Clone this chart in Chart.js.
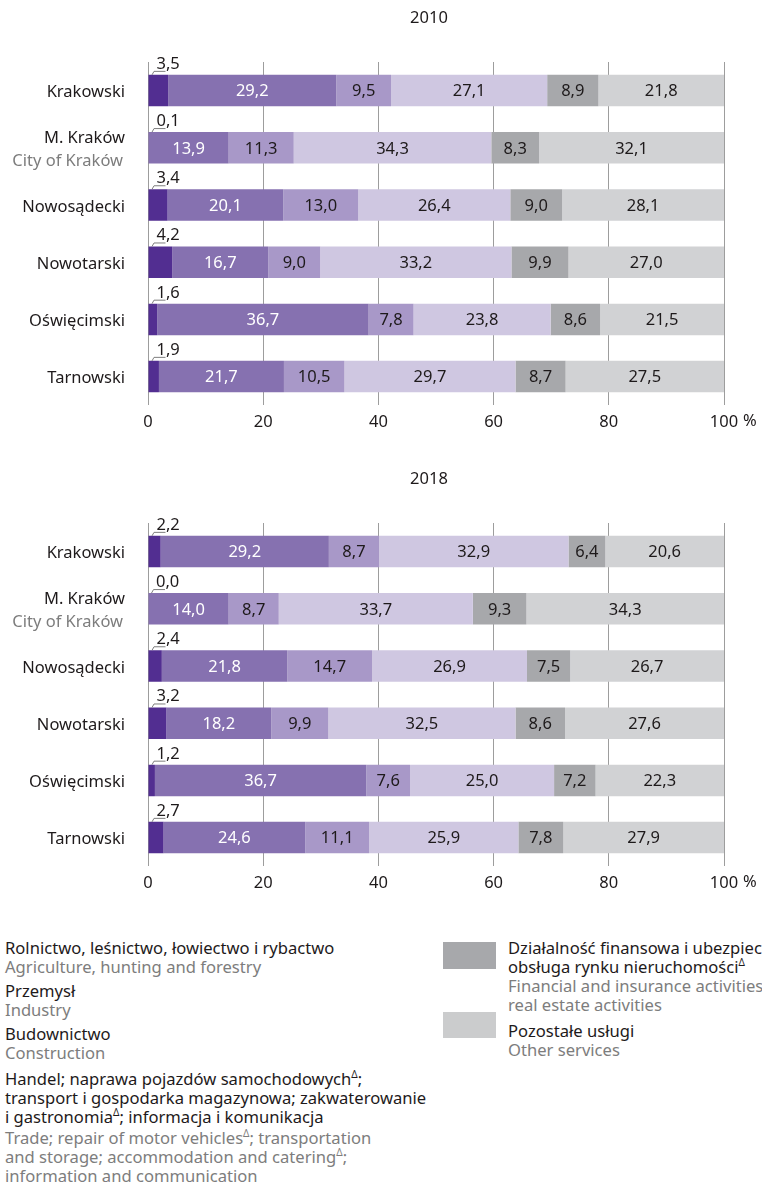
<!DOCTYPE html>
<html>
<head>
<meta charset="utf-8">
<script src="https://cdn.jsdelivr.net/npm/chart.js@4/dist/chart.umd.min.js"></script>
<style>
  body { margin: 0; background: #fff; width: 762px; height: 1183px; overflow: hidden; position: relative; font-family: "Noto Sans", sans-serif; color: #1e1a1b; }
  canvas { position: absolute; left: 0; }
  .legend { position: absolute; font-size: 16.6px; line-height: 19px; white-space: nowrap; }
  .legend .en { color: #7d7d7d; }
  .legend .grp { margin-top: 5px; }
  .legend sup { font-size: 10px; line-height: 0; vertical-align: 7px; }
  .sw { position: absolute; left: 443px; width: 53px; }
</style>
</head>
<body>
<canvas id="chart2010" width="762" height="461" style="top:0"></canvas>
<canvas id="chart2018" width="762" height="461" style="top:461px"></canvas>

<div class="legend" style="left:5px; top:938px">
  <div>Rolnictwo, leśnictwo, łowiectwo i rybactwo</div>
  <div class="en">Agriculture, hunting and forestry</div>
  <div class="grp">Przemysł</div>
  <div class="en">Industry</div>
  <div class="grp">Budownictwo</div>
  <div class="en">Construction</div>
  <div class="grp" style="margin-top:7px">Handel; naprawa pojazdów samochodowych<sup>Δ</sup>;</div>
  <div>transport i gospodarka magazynowa; zakwaterowanie</div>
  <div>i gastronomia<sup>Δ</sup>; informacja i komunikacja</div>
  <div class="en" style="margin-top:2px">Trade; repair of motor vehicles<sup>Δ</sup>; transportation</div>
  <div class="en">and storage; accommodation and catering<sup>Δ</sup>;</div>
  <div class="en">information and communication</div>
</div>

<div class="sw" style="top:942px; height:27px; background:#a7a8ab"></div>
<div class="sw" style="top:1012px; height:26px; background:#cbcccd"></div>
<div class="legend" style="left:508px; top:938px">
  <div>Działalność finansowa i ubezpieczeniowa;</div>
  <div>obsługa rynku nieruchomości<sup>Δ</sup></div>
  <div class="en">Financial and insurance activities;</div>
  <div class="en">real estate activities</div>
  <div class="grp" style="margin-top:7px">Pozostałe usługi</div>
  <div class="en">Other services</div>
</div>

<script>
// categories
const regions = ['Krakowski', 'M. Kraków', 'Nowosądecki', 'Nowotarski', 'Oświęcimski', 'Tarnowski'];
const regionsEn = ['', 'City of Kraków', '', '', '', ''];
const sectors = [
  'Rolnictwo, leśnictwo, łowiectwo i rybactwo',
  'Przemysł',
  'Budownictwo',
  'Handel; naprawa pojazdów samochodowych; transport i gospodarka magazynowa; zakwaterowanie i gastronomia; informacja i komunikacja',
  'Działalność finansowa i ubezpieczeniowa; obsługa rynku nieruchomości',
  'Pozostałe usługi'
];
const sectorColors = ['#522e91', '#8671b0', '#a898c8', '#cfc7e1', '#a7a8ab', '#d1d2d4'];
const xTicks = [0, 20, 40, 60, 80, 100];

// 2010 (%)
const agriculture2010 = [3.5, 0.1, 3.4, 4.2, 1.6, 1.9];
const industry2010 = [29.2, 13.9, 20.1, 16.7, 36.7, 21.7];
const construction2010 = [9.5, 11.3, 13.0, 9.0, 7.8, 10.5];
const trade2010 = [27.1, 34.3, 26.4, 33.2, 23.8, 29.7];
const finance2010 = [8.9, 8.3, 9.0, 9.9, 8.6, 8.7];
const other2010 = [21.8, 32.1, 28.1, 27.0, 21.5, 27.5];

// 2018 (%)
const agriculture2018 = [2.2, 0.0, 2.4, 3.2, 1.2, 2.7];
const industry2018 = [29.2, 14.0, 21.8, 18.2, 36.7, 24.6];
const construction2018 = [8.7, 8.7, 14.7, 9.9, 7.6, 11.1];
const trade2018 = [32.9, 33.7, 26.9, 32.5, 25.0, 25.9];
const finance2018 = [6.4, 9.3, 7.5, 8.6, 7.2, 7.8];
const other2018 = [20.6, 34.3, 26.7, 27.6, 22.3, 27.9];

const FONT = '"Noto Sans", sans-serif';
const TEXT = '#1e1a1b';
const GREY = '#7d7d7d';

function fmt(v) {
  return v.toFixed(1).replace('.', ',');
}

// labels, title, leader lines
const drawStuff = {
  id: 'drawStuff',
  afterDatasetsDraw(chart, args, opts) {
    const ctx = chart.ctx;
    const y = chart.scales.y;
    const x = chart.scales.x;
    ctx.save();
    ctx.font = '16.5px ' + FONT;

    // title
    ctx.fillStyle = TEXT;
    ctx.textAlign = 'center';
    ctx.textBaseline = 'middle';
    ctx.fillText(opts.title, 429, 18);

    // % after the 100 tick
    ctx.textAlign = 'left';
    ctx.fillText('%', x.getPixelForValue(100) + 19, chart.chartArea.bottom + 16);

    // category labels
    ctx.textAlign = 'right';
    regions.forEach((r, i) => {
      const py = y.getPixelForValue(i);
      if (regionsEn[i]) {
        ctx.fillStyle = TEXT;
        ctx.fillText(r, 125, py - 10);
        ctx.fillStyle = GREY;
        ctx.fillText(regionsEn[i], 123, py + 13);
      } else {
        ctx.fillStyle = TEXT;
        ctx.fillText(r, 125, py + 2);
      }
    });

    // values inside bars
    chart.data.datasets.forEach((ds, d) => {
      if (d === 0) return;
      chart.getDatasetMeta(d).data.forEach((bar, i) => {
        ctx.fillStyle = d === 1 ? '#ffffff' : TEXT;
        ctx.textAlign = 'center';
        ctx.fillText(fmt(ds.data[i]), (bar.x + bar.base) / 2, bar.y + 1);
      });
    });

    // small first segment: value above with leader line
    const first = chart.data.datasets[0];
    chart.getDatasetMeta(0).data.forEach((bar, i) => {
      const left = bar.base;
      const top = bar.y - bar.height / 2;
      ctx.strokeStyle = '#7f7f7f';
      ctx.lineWidth = 1;
      ctx.beginPath();
      ctx.moveTo(left + 3.5, top);
      ctx.lineTo(left + 5.5, top - 3.5);
      ctx.lineTo(left + 17, top - 3.5);
      ctx.stroke();
      ctx.fillStyle = TEXT;
      ctx.textAlign = 'left';
      ctx.textBaseline = 'alphabetic';
      ctx.fillText(fmt(first.data[i]), left + 8, top - 6);
      ctx.textBaseline = 'middle';
    });
    ctx.restore();
  }
};

function makeChart(id, title, series) {
  return new Chart(document.getElementById(id), {
    type: 'bar',
    data: {
      labels: regions,
      datasets: series.map((s, k) => ({
        label: sectors[k],
        data: s,
        backgroundColor: sectorColors[k],
        borderWidth: 0,
        barPercentage: 0.55,
        categoryPercentage: 1
      }))
    },
    options: {
      indexAxis: 'y',
      responsive: false,
      animation: false,
      layout: { padding: { top: 62, right: 38, bottom: 22, left: 0 } },
      plugins: {
        legend: { display: false },
        title: { display: false },
        tooltip: { enabled: false },
        drawStuff: { title: title }
      },
      scales: {
        x: {
          stacked: true,
          min: 0,
          max: 100,
          afterBuildTicks: axis => { axis.ticks = xTicks.map(v => ({ value: v })); },
          border: { display: false },
          grid: { color: '#9d9d9d', lineWidth: 1, drawTicks: false },
          ticks: { padding: 7, color: TEXT, font: { family: FONT, size: 16.5 } }
        },
        y: {
          stacked: true,
          border: { display: false },
          grid: { display: false },
          ticks: { display: false },
          afterFit: axis => { axis.width = 148; }
        }
      }
    },
    plugins: [drawStuff]
  });
}

makeChart('chart2010', '2010', [agriculture2010, industry2010, construction2010, trade2010, finance2010, other2010]);
makeChart('chart2018', '2018', [agriculture2018, industry2018, construction2018, trade2018, finance2018, other2018]);
</script>
</body>
</html>
